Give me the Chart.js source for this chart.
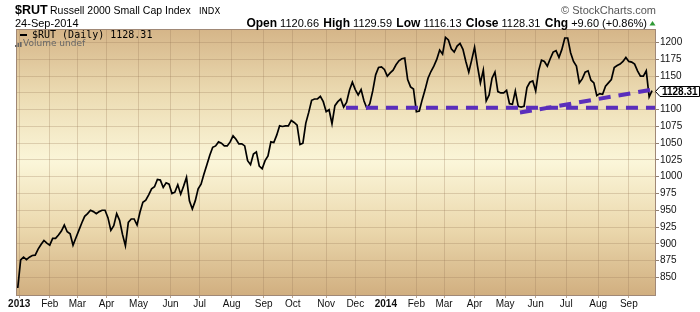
<!DOCTYPE html>
<html>
<head>
<meta charset="utf-8">
<script src="https://cdn.jsdelivr.net/npm/chart.js@4.4.1/dist/chart.umd.min.js"></script>
<style>
  html, body { margin: 0; padding: 0; background: #ffffff; }
  #c { display: block; }
</style>
</head>
<body>
<canvas id="c" width="700" height="312"></canvas>
<script>
// $RUT daily closes, sampled every 2nd trading day (index 0 = 2 Jan 2013)
const FIRST_DAY = -1;
const STEP = 2;
const closes2013 = [
  834, 876, 880, 876.5, 880, 882.5, 883, 892, 899, 905, 901, 898, 908, 908, 913, 919, 928, 918, 915, 898,
  909, 920, 931, 941, 945, 950, 948, 945, 948, 950, 950, 939, 920, 927, 945, 935, 914, 897,
  932, 937, 937, 928, 947, 962, 965, 973, 982, 985, 996, 995, 984, 991, 989, 975, 977, 988, 974, 986,
  999, 964, 952, 964, 982, 989, 1004, 1018, 1032, 1044, 1046, 1052, 1050, 1046, 1046, 1052,
  1061, 1056, 1049, 1049, 1046, 1024, 1018, 1034, 1037, 1016, 1012, 1024, 1031, 1052, 1051, 1062,
  1076, 1075, 1076, 1076, 1084, 1081, 1077, 1048, 1050, 1080, 1096, 1114, 1116, 1116, 1120, 1112,
  1097, 1100, 1079, 1106,
  1112, 1116, 1104, 1111, 1129, 1141, 1130, 1122, 1130, 1113, 1102, 1109, 1128, 1152, 1163, 1164, 1160
];
const closes2014 = [
  1150, 1155, 1159, 1167, 1173, 1176, 1177, 1145, 1134, 1131, 1097, 1098, 1115, 1130, 1147, 1157,
  1165, 1175, 1189,
  1183, 1208, 1204, 1191, 1186, 1195, 1199, 1190, 1172, 1156, 1174, 1193, 1165, 1140, 1159, 1113,
  1122, 1147, 1156, 1127, 1125, 1125, 1129, 1109, 1108, 1128, 1105, 1104, 1105, 1133, 1141, 1143,
  1128, 1158, 1174, 1172,
  1165, 1176, 1186, 1188, 1178, 1190, 1207, 1207, 1185, 1172, 1165, 1140, 1146, 1156, 1158, 1144,
  1140, 1121, 1124, 1123, 1135, 1140, 1145, 1163, 1166, 1168, 1172, 1178, 1172, 1171, 1168, 1158,
  1150, 1150, 1158, 1119, 1128.31
];

// hand-drawn annotation lines (trading-day index, level)
const supportDays = [224.6, 437.7];
const supportLevels = [1103, 1103];
const trendDays = [344.2, 434.3];
const trendLevels = [1095.7, 1129.7];

// axes
const monthDays = [0, 21, 40, 60, 82, 104, 124, 146, 168, 188, 211, 231, 252, 273, 292, 313, 334, 355, 376, 398, 419];
const monthLabels = ["2013", "Feb", "Mar", "Apr", "May", "Jun", "Jul", "Aug", "Sep", "Oct", "Nov", "Dec",
                     "2014", "Feb", "Mar", "Apr", "May", "Jun", "Jul", "Aug", "Sep"];
const yTickValues = [850, 875, 900, 925, 950, 975, 1000, 1025, 1050, 1075, 1100, 1125, 1150, 1175, 1200];

const statItems = [
  ["Open", "1120.66"], ["High", "1129.59"], ["Low", "1116.13"], ["Close", "1128.31"], ["Chg", "+9.60 (+0.86%)"]
];
const lastClose = 1128.31;

const SANS = '"Liberation Sans", Arial, sans-serif';
const GRID = "rgba(150, 118, 85, 0.28)";
const PURPLE = "#5a2ebc";

const closes = closes2013.concat(closes2014);
const pricePoints = closes.map((v, k) => ({ x: FIRST_DAY + k * STEP, y: v }));
const supportPoints = supportDays.map((d, k) => ({ x: d, y: supportLevels[k] }));
const trendPoints = trendDays.map((d, k) => ({ x: d, y: trendLevels[k] }));

// fond dégradé beige de la zone de tracé
const plotBackground = {
  id: "plotBackground",
  beforeDraw(chart) {
    const { ctx, chartArea: a } = chart;
    const g = ctx.createLinearGradient(0, a.top, 0, a.bottom);
    g.addColorStop(0, "#d5b588");
    g.addColorStop(0.25, "#ecdcb3");
    g.addColorStop(0.5, "#fbf6d9");
    g.addColorStop(0.75, "#ebd8ad");
    g.addColorStop(1, "#d1af80");
    ctx.save();
    ctx.fillStyle = "#ffffff";
    ctx.fillRect(0, 0, chart.width, chart.height);
    ctx.fillStyle = g;
    ctx.fillRect(a.left, a.top, a.right - a.left, a.bottom - a.top);
    ctx.restore();
  }
};

// en-tête, légende interne, cadre et étiquette du dernier cours
const decorations = {
  id: "decorations",
  afterDraw(chart) {
    const { ctx, chartArea: a } = chart;
    ctx.save();

    // frame
    ctx.strokeStyle = "#a08876";
    ctx.lineWidth = 1;
    ctx.strokeRect(a.left + 0.5, a.top + 0.5, a.right - a.left - 1, a.bottom - a.top);

    // title
    ctx.fillStyle = "#000000";
    ctx.textBaseline = "alphabetic";
    ctx.textAlign = "left";
    ctx.font = "bold 12.5px " + SANS;
    ctx.fillText("$RUT", 15, 13.5);
    ctx.font = "10.5px " + SANS;
    ctx.fillText("Russell 2000 Small Cap Index", 50, 13.5);
    ctx.font = '8.5px "DejaVu Sans", sans-serif';
    ctx.fillText("INDX", 199, 13.5);
    ctx.font = "11px " + SANS;
    ctx.fillText("24-Sep-2014", 15, 27);

    ctx.fillStyle = "#555555";
    ctx.textAlign = "right";
    ctx.font = "11px " + SANS;
    ctx.fillText("\u00A9 StockCharts.com", 656, 14);

    // stats line, right-aligned
    const bold = "bold 12px " + SANS, reg = "11px " + SANS;
    const GAP = 4.3;
    const parts = [];
    statItems.forEach(([label, val], k) => {
      parts.push([label, bold, 0]);
      parts.push([" " + val, reg, k < statItems.length - 1 ? GAP : 0]);
    });
    let total = 0;
    parts.forEach(p => { ctx.font = p[1]; total += ctx.measureText(p[0]).width + p[2]; });
    let x = 647 - total;
    ctx.textAlign = "left";
    ctx.fillStyle = "#000000";
    parts.forEach(p => {
      ctx.font = p[1];
      ctx.fillText(p[0], x, 27);
      x += ctx.measureText(p[0]).width + p[2];
    });
    ctx.fillStyle = "#2f9a35";
    ctx.beginPath();
    ctx.moveTo(649.5, 25.5); ctx.lineTo(655.5, 25.5); ctx.lineTo(652.5, 21); ctx.closePath();
    ctx.fill();

    // legend inside plot
    ctx.strokeStyle = "#000000";
    ctx.lineWidth = 2;
    ctx.beginPath(); ctx.moveTo(20, 35); ctx.lineTo(27, 35); ctx.stroke();
    ctx.fillStyle = "#000000";
    ctx.textBaseline = "middle";
    ctx.font = '10px "DejaVu Sans Mono", monospace';
    ctx.fillText("$RUT (Daily) 1128.31", 32, 35);
    ctx.fillStyle = "#666666";
    [[15, 45, 2], [17.5, 43, 4], [20, 42, 5]].forEach(b => ctx.fillRect(b[0], b[1], 1.6, b[2]));
    ctx.font = '9px "DejaVu Sans", sans-serif';
    ctx.fillText("Volume undef", 23, 44);

    // last close tag
    const y = Math.round(chart.scales.y.getPixelForValue(lastClose)) + 0.5;
    const r = a.right;
    ctx.fillStyle = "#ffffff";
    ctx.strokeStyle = "#000000";
    ctx.lineWidth = 1;
    ctx.beginPath();
    ctx.moveTo(r - 0.5, y);
    ctx.lineTo(r + 4, y - 5);
    ctx.lineTo(699.5, y - 5);
    ctx.lineTo(699.5, y + 5);
    ctx.lineTo(r + 4, y + 5);
    ctx.closePath();
    ctx.fill();
    ctx.stroke();
    ctx.fillStyle = "#000000";
    ctx.font = "bold 10px " + SANS;
    ctx.textAlign = "center";
    ctx.fillText(lastClose.toFixed(2), (r + 4 + 699.5) / 2, y + 0.5);

    ctx.restore();
  }
};

new Chart(document.getElementById("c"), {
  type: "line",
  data: {
    datasets: [
      { data: supportPoints, borderColor: PURPLE, borderWidth: 4, borderDash: [12, 8],
        pointRadius: 0, fill: false, order: 0 },
      { data: trendPoints, borderColor: PURPLE, borderWidth: 4, borderDash: [12, 8],
        pointRadius: 0, fill: false, order: 0 },
      { data: pricePoints, borderColor: "#000000", borderWidth: 1.7, pointRadius: 0,
        tension: 0, fill: false, order: 1 }
    ]
  },
  options: {
    responsive: false,
    animation: false,
    events: [],
    layout: { padding: { top: 29, left: 16, right: 0, bottom: 0 } },
    plugins: { legend: { display: false }, tooltip: { enabled: false } },
    scales: {
      x: {
        type: "linear",
        min: -2.2,
        max: 437.7,
        afterBuildTicks(scale) { scale.ticks = monthDays.map(v => ({ value: v })); },
        afterFit(scale) { scale.height = 17; },
        grid: { color: GRID, tickColor: "#b9a58f", tickLength: 3 },
        border: { display: false },
        ticks: {
          autoSkip: false,
          maxRotation: 0,
          padding: 0,
          color: "#111111",
          font: (c) => ({ family: SANS, size: 10,
                           weight: /^\d{4}$/.test(monthLabels[c.index]) ? "bold" : "normal" }),
          callback: (v, i) => monthLabels[i]
        }
      },
      y: {
        position: "right",
        min: 823.6,
        max: 1220.4,
        afterBuildTicks(scale) { scale.ticks = yTickValues.map(v => ({ value: v })); },
        afterFit(scale) { scale.width = 44; },
        grid: { color: GRID, tickColor: "#8f7f72", tickLength: 3 },
        border: { display: false },
        ticks: {
          autoSkip: false,
          padding: 1,
          color: "#111111",
          font: { family: SANS, size: 10 },
          callback: (v) => String(v)
        }
      }
    }
  },
  plugins: [plotBackground, decorations]
});
</script>
</body>
</html>
